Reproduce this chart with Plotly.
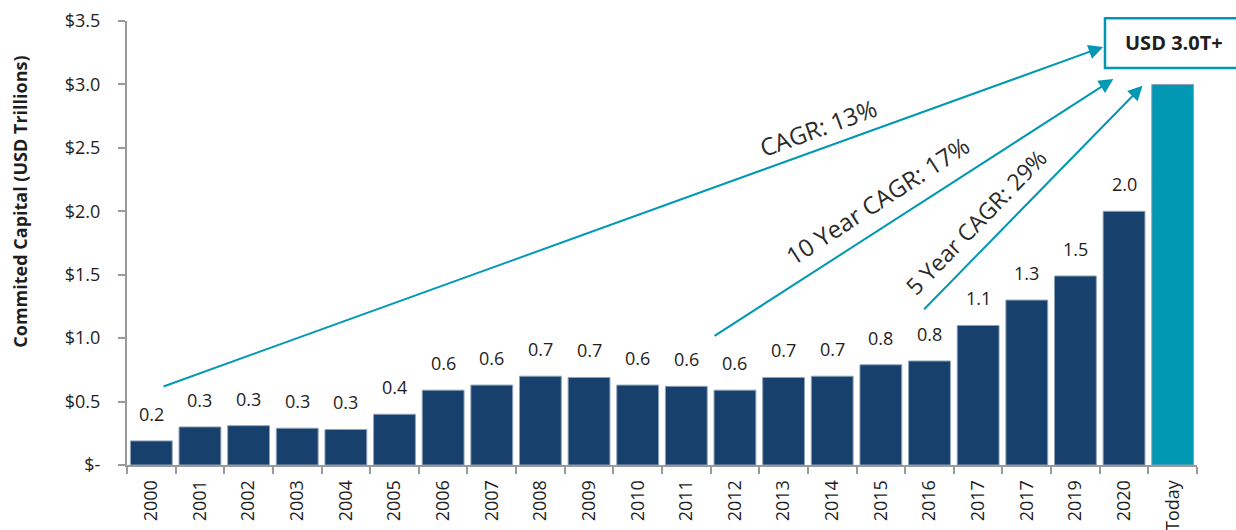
import plotly.graph_objects as go

# ---------------- data ----------------
years = ["2000", "2001", "2002", "2003", "2004", "2005", "2006", "2007", "2008",
         "2009", "2010", "2011", "2012", "2013", "2014", "2015", "2016", "2017",
         "2017", "2019", "2020"]
values = [0.19, 0.30, 0.31, 0.29, 0.28, 0.40, 0.59, 0.63, 0.70, 0.69, 0.63,
          0.62, 0.59, 0.69, 0.70, 0.79, 0.82, 1.10, 1.30, 1.49, 2.00]
today_label = "Today"
today_value = 3.0

y_tickvals = [0, 0.5, 1.0, 1.5, 2.0, 2.5, 3.0, 3.5]
y_ticktext = ["$-", "$0.5", "$1.0", "$1.5", "$2.0", "$2.5", "$3.0", "$3.5"]

cagr_labels = ["CAGR: 13%", "10 Year CAGR: 17%", "5 Year CAGR: 29%"]
cagr_label_x = [13.71, 14.92, 16.95]
cagr_label_y = [2.66, 2.088, 1.915]
cagr_label_angle = [-20, -33, -46]
cagr_label_size = [24, 24, 23]
arrow_tail_x = [0.22, 11.55, 15.86]
arrow_tail_y = [0.615, 1.011, 1.216]
arrow_head_x = [19.57, 19.78, 20.38]
arrow_head_y = [3.296, 3.042, 2.989]

headline = "<b>USD 3.0T+</b>"
y_title = "<b>Commited Capital (USD Trillions)</b>"

# ---------------- style ----------------
NAVY = "#17416C"
TEAL = "#0098B2"
AXIS = "#9A9A9A"
TXT = "#1E1E1E"
FONT = "Open Sans"

labels = years + [today_label]
heights = values + [today_value]
xs = list(range(len(labels)))
colors = [NAVY] * len(years) + [TEAL]

fig = go.Figure()
fig.add_trace(go.Bar(
    x=xs, y=heights,
    marker=dict(color=colors, line=dict(color="#8FA3B8", width=1)),
    width=0.86,
    hoverinfo="skip",
))

annotations = []
# value labels above the yearly bars
for i, v in enumerate(values):
    annotations.append(dict(
        x=i, y=v, xref="x", yref="y", text=f"{v:.1f}", showarrow=False,
        xanchor="center", yanchor="bottom", yshift=13,
        font=dict(family=FONT, size=18, color=TXT)))

# CAGR arrows
for tx, ty, hx, hy in zip(arrow_tail_x, arrow_tail_y, arrow_head_x, arrow_head_y):
    annotations.append(dict(
        x=hx, y=hy, xref="x", yref="y", ax=tx, ay=ty, axref="x", ayref="y",
        text="", showarrow=True, arrowhead=2, arrowsize=1.45, arrowwidth=2,
        arrowcolor=TEAL, standoff=0, startstandoff=0))

# CAGR texts
for t, lx, ly, ang, sz in zip(cagr_labels, cagr_label_x, cagr_label_y,
                              cagr_label_angle, cagr_label_size):
    annotations.append(dict(
        x=lx, y=ly, xref="x", yref="y", text=t, showarrow=False,
        xanchor="center", yanchor="middle",
        textangle=ang, font=dict(family=FONT, size=sz, color="#2A2A2A")))

# headline text in box
annotations.append(dict(
    x=0.9785, y=0.951, xref="paper", yref="paper", text=headline, showarrow=False,
    xanchor="center", yanchor="middle",
    font=dict(family=FONT, size=20, color=TXT)))

# y-axis title
annotations.append(dict(
    x=-0.0995, y=0.592, xref="paper", yref="paper", text=y_title, showarrow=False,
    xanchor="center", yanchor="middle",
    textangle=-90, font=dict(family=FONT, size=18, color=TXT)))

fig.add_shape(type="rect", xref="paper", yref="paper",
              x0=0.914, x1=1.06, y0=0.894, y1=1.006,
              line=dict(color=TEAL, width=2.5), fillcolor="white", layer="above")

fig.update_layout(
    width=1236, height=530,
    margin=dict(l=127, r=39, t=21, b=65, autoexpand=False),
    plot_bgcolor="white", paper_bgcolor="white",
    showlegend=False,
    annotations=annotations,
    font=dict(family=FONT, size=18, color=TXT),
    xaxis=dict(
        automargin=False,
        range=[-0.5, len(labels) - 0.5],
        tickmode="array", tickvals=xs, ticktext=labels, tickangle=-90,
        ticks="", showgrid=False, zeroline=False,
        showline=True, linecolor=AXIS, linewidth=2,
        tickfont=dict(family=FONT, size=18, color=TXT),
        ticklabelstandoff=6,
        minor=dict(tickmode="array", tickvals=[i - 0.5 for i in range(len(labels) + 1)],
                   ticks="outside", ticklen=7, tickwidth=2, tickcolor=AXIS, showgrid=False),
    ),
    yaxis=dict(
        automargin=False,
        range=[0, 3.5], tickmode="array", tickvals=y_tickvals, ticktext=y_ticktext,
        ticks="outside", ticklen=7, tickwidth=2, tickcolor=AXIS,
        showline=True, linecolor=AXIS, linewidth=2,
        showgrid=False, zeroline=False,
        tickfont=dict(family=FONT, size=18, color=TXT),
        ticklabelstandoff=14,
    ),
)

fig.write_html(
    "out.html",
    config={"displayModeBar": False},
    post_script="document.body.style.margin='0';document.body.style.overflow='hidden';",
)
